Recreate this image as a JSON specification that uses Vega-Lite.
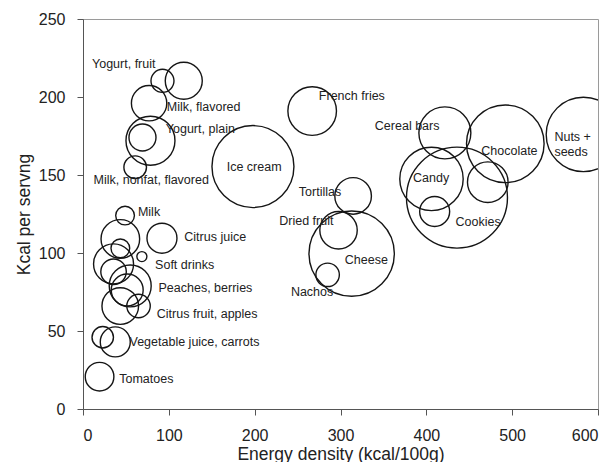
{
  "$schema": "https://vega.github.io/schema/vega-lite/v6.json",
  "width": 515,
  "height": 390,
  "autosize": "none",
  "padding": {"left": 83, "top": 19, "right": 17, "bottom": 53},
  "background": "white",
  "config": {
    "view": {"stroke": "#9a9a9a", "strokeWidth": 1},
    "font": "Liberation Sans",
    "axis": {
      "grid": false,
      "domainColor": "#555555",
      "tickColor": "#555555",
      "tickSize": 6,
      "labelFont": "Liberation Sans",
      "titleFont": "Liberation Sans",
      "labelFontSize": 16,
      "titleFontSize": 17.5,
      "titleFontWeight": "normal",
      "labelColor": "#222222",
      "titleColor": "#222222",
      "labelPadding": 12
    }
  },
  "datasets": {
    "foods": [
      {"food": "Yogurt, fruit (a)", "density": 92.6, "kcal": 210.4, "share": 5.3},
      {"food": "Yogurt, fruit (b)", "density": 117.4, "kcal": 210.4, "share": 13.7},
      {"food": "Milk, flavored", "density": 77, "kcal": 196, "share": 12.5},
      {"food": "Yogurt, plain (a)", "density": 78.6, "kcal": 172, "share": 24},
      {"food": "Yogurt, plain (b)", "density": 69.3, "kcal": 174, "share": 7.3},
      {"food": "Milk, nonfat, flavored", "density": 60.8, "kcal": 155, "share": 5.1},
      {"food": "Ice cream", "density": 198, "kcal": 155.4, "share": 67.2},
      {"food": "Milk (a)", "density": 49, "kcal": 124, "share": 3.5},
      {"food": "Milk (b)", "density": 43.5, "kcal": 109, "share": 14.9},
      {"food": "Citrus juice", "density": 92, "kcal": 109.5, "share": 9},
      {"food": "Milk (c)", "density": 43.5, "kcal": 103, "share": 3.5},
      {"food": "Soft drinks (a)", "density": 68.6, "kcal": 97.7, "share": 1},
      {"food": "Soft drinks (b)", "density": 35.6, "kcal": 93, "share": 16},
      {"food": "Soft drinks (c)", "density": 35.6, "kcal": 88, "share": 6.5},
      {"food": "Peaches, berries (a)", "density": 55, "kcal": 78.9, "share": 17.6},
      {"food": "Peaches, berries (b)", "density": 51.5, "kcal": 76.3, "share": 10.2},
      {"food": "Citrus fruit, apples (a)", "density": 43.4, "kcal": 66, "share": 13.4},
      {"food": "Citrus fruit, apples (b)", "density": 64.7, "kcal": 66, "share": 5.5},
      {"food": "Vegetable juice", "density": 23, "kcal": 46, "share": 4.6},
      {"food": "Carrots", "density": 37.6, "kcal": 43, "share": 9},
      {"food": "Tomatoes", "density": 19.3, "kcal": 20.7, "share": 8.2},
      {"food": "French fries", "density": 267, "kcal": 191, "share": 23.6},
      {"food": "Tortillas", "density": 314.7, "kcal": 136.6, "share": 13.4},
      {"food": "Dried fruit", "density": 297.7, "kcal": 114.6, "share": 14},
      {"food": "Cheese", "density": 313, "kcal": 99.6, "share": 72.9},
      {"food": "Nachos", "density": 285, "kcal": 86, "share": 5.5},
      {"food": "Cereal bars", "density": 421.6, "kcal": 177, "share": 27},
      {"food": "Chocolate", "density": 492, "kcal": 170, "share": 60.2},
      {"food": "Nuts + seeds", "density": 583, "kcal": 176, "share": 55.4},
      {"food": "Candy", "density": 406, "kcal": 147.5, "share": 40.2},
      {"food": "Cookies", "density": 435.7, "kcal": 135.5, "share": 102},
      {"food": "Candy (b)", "density": 409.7, "kcal": 126.6, "share": 9},
      {"food": "Cookies (b)", "density": 471.6, "kcal": 145.4, "share": 16.5}
    ],
    "labels": [
      {"label": "Yogurt, fruit", "lx": 10.5, "ly": 221},
      {"label": "Milk, flavored", "lx": 97.7, "ly": 193.5},
      {"label": "Yogurt, plain", "lx": 96.5, "ly": 179.4},
      {"label": "Milk, nonfat, flavored", "lx": 12.3, "ly": 146.7},
      {"label": "Ice cream", "lx": 167.4, "ly": 155.4},
      {"label": "Milk", "lx": 64, "ly": 126.6},
      {"label": "Citrus juice", "lx": 118, "ly": 110},
      {"label": "Soft drinks", "lx": 84, "ly": 92},
      {"label": "Peaches, berries", "lx": 88, "ly": 77.8},
      {"label": "Citrus fruit, apples", "lx": 86, "ly": 60.7},
      {"label": "Vegetable juice, carrots", "lx": 54.2, "ly": 43.2},
      {"label": "Tomatoes", "lx": 42.2, "ly": 19},
      {"label": "French fries", "lx": 274.8, "ly": 200.8},
      {"label": "Tortillas", "lx": 251.5, "ly": 139.4},
      {"label": "Dried fruit", "lx": 228.6, "ly": 120.2},
      {"label": "Cheese", "lx": 305, "ly": 95.6},
      {"label": "Nachos", "lx": 242.2, "ly": 75.2},
      {"label": "Cereal bars", "lx": 340, "ly": 181.5},
      {"label": "Chocolate", "lx": 464, "ly": 165.7},
      {"label": "Nuts +\nseeds", "lx": 549.2, "ly": 174.2},
      {"label": "Candy", "lx": 384.5, "ly": 148},
      {"label": "Cookies", "lx": 434, "ly": 120}
    ]
  },
  "layer": [
    {
      "data": {"name": "foods"},
      "mark": {"type": "point", "shape": "circle", "filled": false, "stroke": "#151515", "strokeWidth": 1.4, "opacity": 1, "clip": true},
      "encoding": {
        "x": {"field": "density", "type": "quantitative", "title": "Energy density (kcal/100g)",
              "scale": {"domain": [0, 600], "nice": false, "zero": true},
              "axis": {"values": [0, 100, 200, 300, 400, 500, 600], "titlePadding": 2}},
        "y": {"field": "kcal", "type": "quantitative", "title": "Kcal per servng",
              "scale": {"domain": [0, 250], "nice": false},
              "axis": {"values": [0, 50, 100, 150, 200, 250], "titlePadding": 5}},
        "size": {"field": "share", "type": "quantitative", "legend": null,
                 "scale": {"type": "linear", "domain": [0, 120], "range": [0, 12000]}}
      }
    },
    {
      "data": {"name": "labels"},
      "mark": {"type": "text", "align": "left", "baseline": "middle", "fontSize": 12.5, "font": "Liberation Sans", "color": "#222222", "lineBreak": "\n", "lineHeight": 15},
      "encoding": {
        "x": {"field": "lx", "type": "quantitative"},
        "y": {"field": "ly", "type": "quantitative"},
        "text": {"field": "label"}
      }
    }
  ]
}
